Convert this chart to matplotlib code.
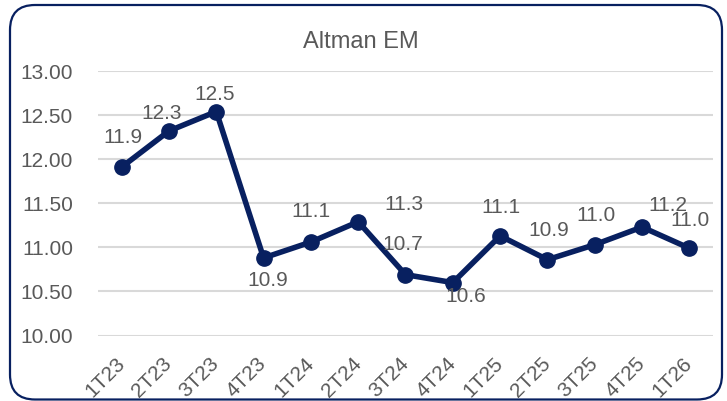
import matplotlib.pyplot as plt
from matplotlib.patches import FancyBboxPatch
from matplotlib.transforms import IdentityTransform

plt.rcParams['font.family'] = ['Liberation Sans', 'DejaVu Sans']

# datos del gráfico
trimestres = ['1T23', '2T23', '3T23', '4T23', '1T24', '2T24', '3T24',
              '4T24', '1T25', '2T25', '3T25', '4T25', '1T26']
altman = [11.91, 12.32, 12.54, 10.88, 11.06, 11.29, 10.69,
          10.60, 11.13, 10.86, 11.03, 11.23, 10.99]
# desplazamiento de las etiquetas (pixeles), como en el original
desplaz = [(1, 30), (-7, 17), (-2, 17), (4, -23), (0, 31), (46, 17), (-3, 30),
           (13, -14), (1, 28), (1, 29), (1, 29), (26, 22), (1, 28)]

azul = '#082060'
gris = '#595959'

fig = plt.figure(figsize=(7.27, 4.01), dpi=100)
ax = fig.add_axes([98 / 727, 1 - 335.5 / 401, (713 - 98) / 727, (335.5 - 71) / 401])

x = list(range(len(trimestres)))
ax.plot(x, altman, color=azul, lw=4, marker='o', markersize=11, zorder=3,
        solid_joinstyle='round')

for i, v in enumerate(altman):
    ax.annotate(f'{v:.1f}', (x[i], v), xytext=desplaz[i], textcoords='offset pixels',
                ha='center', va='center', fontsize=15, color=gris, zorder=4)

ax.set_xlim(-0.5, len(trimestres) - 0.5)
ax.set_ylim(10, 13)
ax.set_yticks([10, 10.5, 11, 11.5, 12, 12.5, 13])
ax.set_yticklabels([f'{t:.2f}' for t in ax.get_yticks()])
ax.set_xticks(x)
ax.set_xticklabels(trimestres)
ax.grid(axis='y', color='#d9d9d9', lw=1.5)
ax.set_axisbelow(True)
for s in ax.spines.values():
    s.set_visible(False)
ax.tick_params(axis='y', length=0, pad=18, labelsize=15, labelcolor=gris)
ax.tick_params(axis='x', length=0, pad=18, labelsize=15, labelcolor=gris)
plt.setp(ax.get_xticklabels(), rotation=45, ha='right', va='center',
         rotation_mode='anchor')

fig.text(0.497, 1 - 42 / 401, 'Altman EM', ha='center', va='center',
         fontsize=17, color=gris)

# marco redondeado
marco = FancyBboxPatch((10, 1.5), 712, 394.5, boxstyle='round,pad=0,rounding_size=25',
                       transform=IdentityTransform(), fill=False, edgecolor=azul, lw=1.6)
fig.patches.append(marco)

fig.savefig('out.png', dpi=100)
